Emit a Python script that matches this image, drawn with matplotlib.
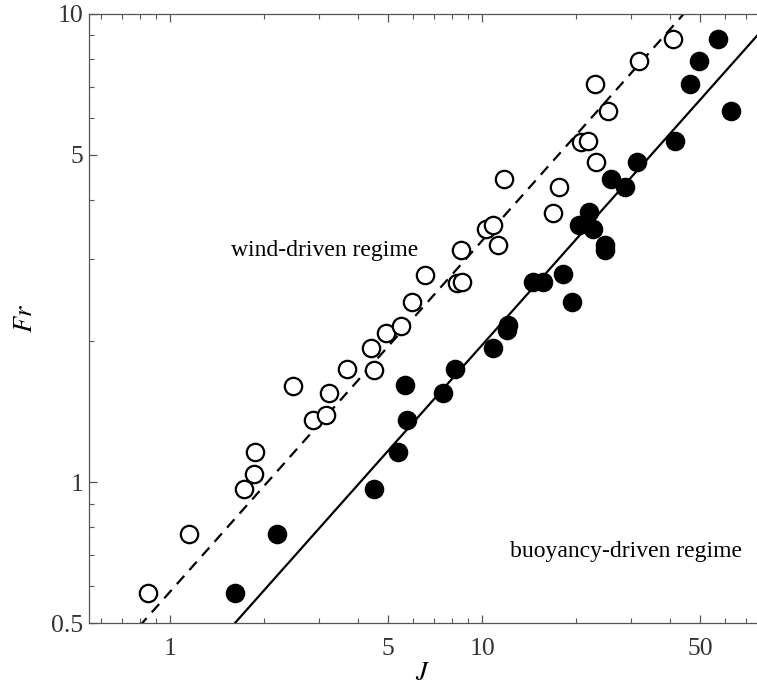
import matplotlib
matplotlib.use("Agg")
import matplotlib.pyplot as plt
import matplotlib.ticker as mticker
import numpy as np

plt.rcParams.update({
    "font.family": ["Liberation Serif", "DejaVu Serif"],
    "mathtext.fontset": "stix",
    "font.size": 17,
})

# wind-driven regime (open circles)
J_wind = [0.848, 1.148, 1.72, 1.86, 1.877, 2.47, 2.87, 3.16, 3.23, 3.68, 4.40, 4.51,
          4.92, 5.49, 5.98, 6.57, 8.33, 8.61, 8.55, 10.3, 10.87, 11.25, 11.76, 16.85,
          17.6, 20.7, 21.8, 23.2, 23.0, 25.4, 31.8, 40.8]
Fr_wind = [0.580, 0.773, 0.966, 1.04, 1.159, 1.606, 1.354, 1.388, 1.547, 1.744, 1.93, 1.735,
           2.08, 2.15, 2.43, 2.77, 2.66, 2.68, 3.13, 3.47, 3.54, 3.21, 4.44, 3.75,
           4.28, 5.32, 5.36, 4.82, 7.09, 6.21, 7.95, 8.84]

# buoyancy-driven regime (filled circles)
J_buoy = [1.62, 2.20, 4.51, 5.38, 5.74, 5.67, 7.48, 8.19, 10.87, 12.0, 12.1, 14.6,
          15.7, 18.1, 19.4, 20.5, 22.0, 22.7, 24.8, 24.8, 25.9, 28.7, 31.3, 41.6,
          46.2, 49.7, 56.9, 62.8]
Fr_buoy = [0.580, 0.773, 0.966, 1.16, 1.357, 1.612, 1.547, 1.741, 1.93, 2.11, 2.17, 2.67,
           2.68, 2.78, 2.43, 3.54, 3.78, 3.47, 3.21, 3.13, 4.44, 4.28, 4.82, 5.36,
           7.09, 7.95, 8.84, 6.21]

# power-law fits Fr = a * J^b
fit_exp = 0.75
a_wind = 0.583
a_buoy = 0.349

xlim = (0.55, 76)
ylim = (0.5, 10)

W, H = 757, 690
fig = plt.figure(figsize=(W / 100, H / 100), dpi=100)
ax = fig.add_axes([89 / W, 1 - 623 / H, 1 - 89 / W, (623 - 14) / H])

jj = np.logspace(np.log10(xlim[0]), np.log10(xlim[1]), 200)
ax.plot(jj, a_wind * jj ** fit_exp, "k--", lw=1.6, dashes=(5, 3.5), zorder=2)
ax.plot(jj, a_buoy * jj ** fit_exp, "k-", lw=1.6, zorder=2)

ax.plot(J_wind, Fr_wind, "o", ms=12.5, mfc="white", mec="black", mew=1.6, ls="none", zorder=3)
ax.plot(J_buoy, Fr_buoy, "o", ms=12.5, mfc="black", mec="black", mew=1.6, ls="none", zorder=3)

ax.set_xscale("log")
ax.set_yscale("log")
ax.set_xlim(*xlim)
ax.set_ylim(*ylim)

ax.xaxis.set_major_locator(mticker.FixedLocator([1, 5, 10, 50]))
ax.xaxis.set_minor_locator(mticker.FixedLocator([0.6, 0.7, 0.8, 0.9, 2, 3, 4, 6, 7, 8, 9,
                                                 20, 30, 40, 60, 70]))
ax.xaxis.set_major_formatter(mticker.FixedFormatter(["1", "5", "10", "50"]))
ax.xaxis.set_minor_formatter(mticker.NullFormatter())
ax.yaxis.set_major_locator(mticker.FixedLocator([0.5, 1, 5, 10]))
ax.yaxis.set_minor_locator(mticker.FixedLocator([0.6, 0.7, 0.8, 0.9, 2, 3, 4, 6, 7, 8, 9]))
ax.yaxis.set_major_formatter(mticker.FixedFormatter(["0.5", "1", "5", "10"]))
ax.yaxis.set_minor_formatter(mticker.NullFormatter())

ax.tick_params(which="both", direction="in", top=True, right=False, color="#555555",
               labelcolor="#333333", labelsize=18.5)
ax.tick_params(which="major", length=6, width=0.9)
ax.tick_params(which="minor", length=3.5, width=0.8)
ax.tick_params(axis="x", which="both", pad=11)
ax.tick_params(axis="y", which="both", pad=4)
for s in ax.spines.values():
    s.set_color("#555555")
    s.set_linewidth(0.9)
ax.spines["right"].set_visible(False)

ax.set_xlabel("$J$", fontsize=19, labelpad=2)
ax.set_ylabel("$Fr$", fontsize=19, labelpad=10)

fig.text(231 / W, 1 - 250 / H, "wind-driven regime", fontsize=17, va="center", ha="left")
fig.text(742 / W, 1 - 552 / H, "buoyancy-driven regime", fontsize=17, va="center", ha="right")

fig.savefig("out.png", dpi=100)
